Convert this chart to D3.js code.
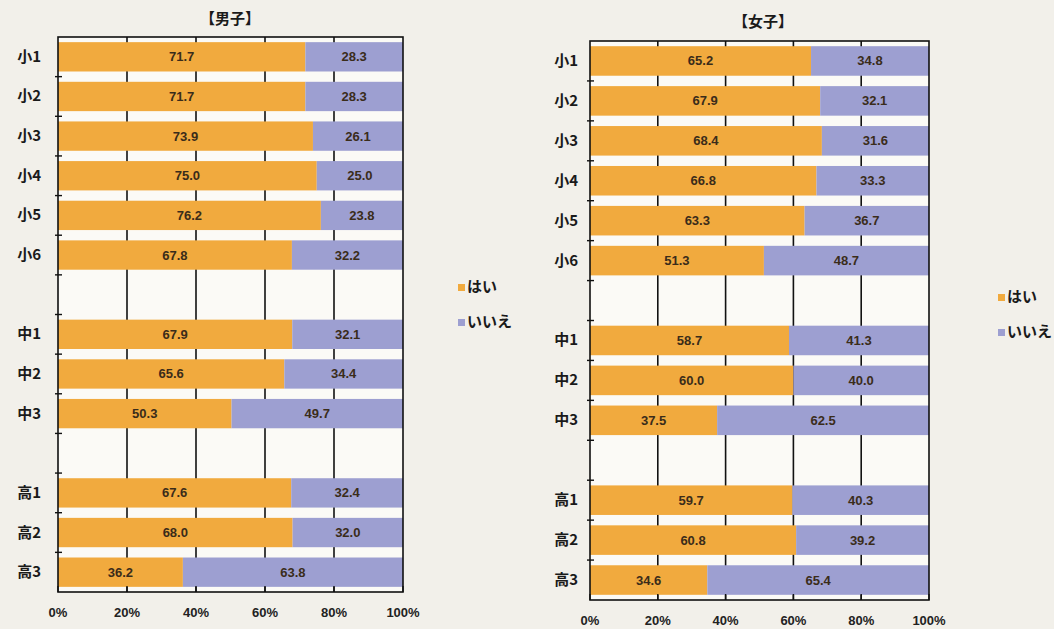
<!DOCTYPE html>
<html><head><meta charset="utf-8">
<script src="https://cdn.jsdelivr.net/npm/d3@7"></script>
<style>
body{margin:0;background:#f2f0ea;}
svg{display:block;}
</style></head>
<body>
<svg id="chart" width="1054" height="629"></svg>
<script>
const categories = ["小1","小2","小3","小4","小5","小6","","中1","中2","中3"," ","高1","高2","高3"];
const seriesNames = ["はい","いいえ"];
const maleYes = [71.7,71.7,73.9,75.0,76.2,67.8,null,67.9,65.6,50.3,null,67.6,68.0,36.2];
const maleNo  = [28.3,28.3,26.1,25.0,23.8,32.2,null,32.1,34.4,49.7,null,32.4,32.0,63.8];
const femaleYes = [65.2,67.9,68.4,66.8,63.3,51.3,null,58.7,60.0,37.5,null,59.7,60.8,34.6];
const femaleNo  = [34.8,32.1,31.6,33.3,36.7,48.7,null,41.3,40.0,62.5,null,40.3,39.2,65.4];
const tickValues = [0,20,40,60,80,100];
const titles = ["【男子】","【女子】"];

const colors = ["#f1aa3e","#9d9fd1"];
const svg = d3.select("#chart");
const font = "'Liberation Sans Narrow','Liberation Sans',Arial,sans-serif";
const jp = "'Noto Sans CJK JP','Noto Sans',sans-serif";

function panel(cfg){
  const {x0,x1,y0,y1,yes,no,title,titleX,titleY,legX,legY,labGap} = cfg;
  const g = svg.append("g");
  const x = d3.scaleLinear().domain([0,100]).range([x0,x1]);
  const y = d3.scaleBand().domain(categories.map((c,i)=>i)).range([y0,y1]).paddingInner(0.26).paddingOuter(0.13);
  const yb = d3.scaleBand().domain(categories.map((c,i)=>i)).range([y0,y1]);
  g.append("rect").attr("x",x0).attr("y",y0).attr("width",x1-x0).attr("height",y1-y0).attr("fill","#fbfaf6");
  // gridlines
  g.selectAll(".grid").data(tickValues.slice(1,-1)).enter().append("line")
    .attr("x1",d=>x(d)).attr("x2",d=>x(d)).attr("y1",y0).attr("y2",y1)
    .attr("stroke","#111").attr("stroke-width",1.6);
  // bars
  categories.forEach((c,i)=>{
    if(yes[i]==null) return;
    const vals=[yes[i],no[i]];
    let cum=0;
    vals.forEach((v,k)=>{
      const a=cum, b=Math.min(100,cum+v); cum+=v;
      g.append("rect").attr("x",x(a)).attr("y",y(i)).attr("width",x(b)-x(a)).attr("height",y.bandwidth()).attr("fill",colors[k]);
      g.append("text").attr("x",(x(a)+x(b))/2).attr("y",y(i)+y.bandwidth()/2+4.5)
        .attr("text-anchor","middle").attr("font-family",font).attr("font-size",13).attr("font-weight","bold")
        .attr("fill","#3a2c1a").text(v.toFixed(1));
    });
  });
  // frame
  g.append("rect").attr("x",x0).attr("y",y0).attr("width",x1-x0).attr("height",y1-y0).attr("fill","none").attr("stroke","#111").attr("stroke-width",1.6);
  // y ticks at band boundaries
  categories.forEach((c,i)=>{ if(i===0) return;
    g.append("line").attr("x1",x0-3).attr("x2",x0+4).attr("y1",yb(i)).attr("y2",yb(i)).attr("stroke","#111").attr("stroke-width",1.4);
  });
  // x ticks
  tickValues.forEach(t=>{
    g.append("line").attr("x1",x(t)).attr("x2",x(t)).attr("y1",y1).attr("y2",y1-6).attr("stroke","#111").attr("stroke-width",1.4);
    g.append("text").attr("x",x(t)).attr("y",y1+25).attr("text-anchor","middle").attr("font-family",font)
      .attr("font-size",13).attr("font-weight","bold").attr("fill","#222").text(t+"%");
  });
  // category labels
  categories.forEach((c,i)=>{ if(!c.trim()) return;
    g.append("text").attr("x",x0-labGap).attr("y",yb(i)+yb.bandwidth()/2+5).attr("text-anchor","end")
      .attr("font-family",jp).attr("font-size",15).attr("font-weight","bold").attr("fill","#1a1a1a").text(c);
  });
  g.append("text").attr("x",titleX).attr("y",titleY).attr("text-anchor","middle").attr("font-family",jp)
    .attr("font-size",15).attr("font-weight","bold").attr("fill","#1a1a1a").text(title);
  // legend
  seriesNames.forEach((s,k)=>{
    g.append("rect").attr("x",legX).attr("y",legY+k*35-8).attr("width",7).attr("height",7).attr("fill",colors[k]);
    g.append("text").attr("x",legX+9).attr("y",legY+k*35).attr("font-family",jp).attr("font-size",15).attr("font-weight","bold")
      .attr("fill","#1a1a1a").text(s);
  });
}
panel({x0:58,x1:403,y0:37,y1:592,yes:maleYes,no:maleNo,title:titles[0],titleX:230,titleY:24,legX:458,legY:292,labGap:17});
panel({x0:590,x1:929,y0:41,y1:600,yes:femaleYes,no:femaleNo,title:titles[1],titleX:763,titleY:27,legX:998,legY:302,labGap:12});
</script>
</body></html>
